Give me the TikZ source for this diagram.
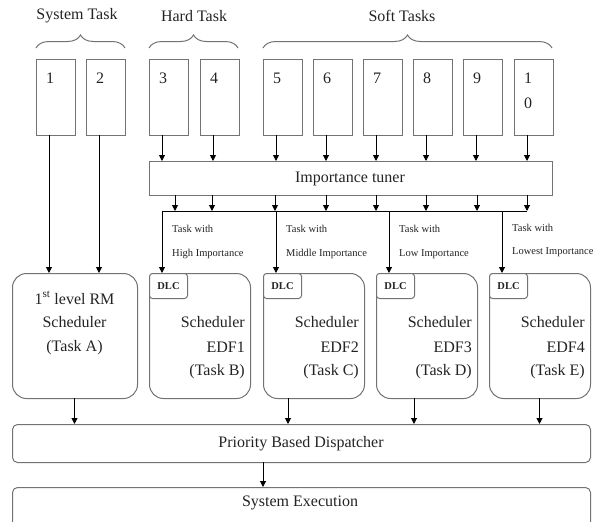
\documentclass[tikz,border=0pt]{standalone}
\usepackage{fontspec}
\setmainfont{Liberation Serif}
\usetikzlibrary{arrows.meta,calc,decorations.pathreplacing}
\definecolor{boxgray}{RGB}{115,115,115}
\definecolor{txt}{RGB}{35,35,35}
\begin{document}
\begin{tikzpicture}[x=1pt,y=-1pt,
  bigtxt/.style={font=\fontsize{16}{19}\selectfont, text=txt, inner sep=0pt},
  smalltxt/.style={font=\fontsize{10.5}{12}\selectfont, text=txt, inner sep=0pt, anchor=west},
  taskbox/.style={draw=boxgray, line width=1pt, minimum width=39pt, minimum height=76pt, anchor=north west, inner sep=0pt},
  schedbox/.style={draw=boxgray, line width=1pt, rounded corners=14pt, minimum height=125pt, anchor=north west, inner sep=0pt},
  dlcbox/.style={draw=boxgray, fill=white, line width=1pt, rounded corners=3pt, minimum width=38pt, minimum height=25pt, anchor=north west, inner sep=0pt, font=\fontsize{10.5}{12}\selectfont\bfseries, text=txt},
  widebox/.style={draw=boxgray, line width=1pt, rounded corners=5pt, minimum width=578pt, anchor=north west, inner sep=0pt},
  arr/.style={-{Triangle[width=6pt,length=6pt]}, line width=1pt, black},
  ln/.style={line width=1pt, black},
  bracestyle/.style={decorate, decoration={brace, amplitude=13pt}, draw=boxgray, line width=1pt}
]
\useasboundingbox (0,0) rectangle (597,522);

% headings
\node[bigtxt] (hsys) at (77,16) {System Task};
\node[bigtxt] (hhard) at (194,16) {Hard Task};
\node[bigtxt] (hsoft) at (402,16) {Soft Tasks};

% braces
\draw[bracestyle] (36,48) -- (125,48);
\draw[bracestyle] (149,48) -- (238,48);
\draw[bracestyle] (263,48) -- (552,48);

% task boxes
\foreach \i/\x in {1/36,2/86,3/149,4/200,5/263,6/313,7/363,8/413,9/463,10/514}{
  \node[taskbox] (t\i) at (\x,59) {};
  \coordinate (ta\i) at (\x+13,135);
}
\foreach \i in {1,...,9}{
  \node[bigtxt] (n\i) at ($(t\i.north west)+(14,19)$) {\i};
}
\node[bigtxt] (n10a) at ($(t10.north west)+(14,19)$) {1};
\node[bigtxt] (n10b) at ($(t10.north west)+(14,44)$) {0};

% importance tuner
\node[draw=boxgray, line width=1pt, minimum width=403pt, minimum height=34pt, anchor=north west, inner sep=0pt] (tuner) at (149,161) {};
\node[bigtxt] (tunertxt) at (350,179) {Importance tuner};

% schedulers
\node[schedbox, minimum width=125pt] (rm) at (12,273) {};
\node[bigtxt] (rmtxt1) at (74.5,298) {1\textsuperscript{st} level RM};
\node[bigtxt] (rmtxt2) at (74.5,322) {Scheduler};
\node[bigtxt] (rmtxt3) at (74.5,348) {(Task A)};

\foreach \k/\x/\l in {1/149/B,2/263/C,3/376/D,4/489/E}{
  \node[schedbox, minimum width=101pt] (e\k) at (\x,273) {};
  \node[dlcbox] (d\k) at (\x,273) {DLC};
  \coordinate (da\k) at (\x+13,273);
  \node[bigtxt, anchor=east] (es\k) at ($(e\k.north east)+(-6,49)$) {Scheduler};
  \node[bigtxt, anchor=east] (ee\k) at ($(e\k.north east)+(-6,74)$) {EDF\k};
  \node[bigtxt, anchor=east] (et\k) at ($(e\k.north east)+(-6,99)$) {(Task \l)};
}

% dispatcher and execution
\node[widebox, minimum height=38pt] (disp) at (12,424) {};
\node[bigtxt] (disptxt) at (301,444) {Priority Based Dispatcher};
\node[widebox, minimum height=50pt] (exec) at (12,487) {};
\node[bigtxt] (exectxt) at (300,503) {System Execution};

% bus coordinates
\coordinate (busL) at (162,211);
\coordinate (busR) at (527,211);

% arrows system tasks
\draw[arr] (ta1) -- (ta1 |- rm.north);
\draw[arr] (ta2) -- (ta2 |- rm.north);

% arrows tasks to tuner
\foreach \i in {3,...,10}{
  \draw[arr] (ta\i) -- (ta\i |- tuner.north);
}

% arrows tuner to bus
\foreach \x in {175,212,275,326,376,426,477,527}{
  \coordinate (tb) at (\x,195);
  \draw[arr] (tb) -- (tb |- busL);
}
\draw[ln] (busL) -- (busR);

% bus to DLCs
\foreach \k in {1,...,4}{
  \draw[arr] (da\k |- busL) -- (da\k);
}

% labels
\node[smalltxt] (l1a) at (172,229) {Task with};
\node[smalltxt] (l1b) at (172,254) {High Importance};
\node[smalltxt] (l2a) at (286,229) {Task with};
\node[smalltxt] (l2b) at (286,254) {Middle Importance};
\node[smalltxt] (l3a) at (399,229) {Task with};
\node[smalltxt] (l3b) at (399,254) {Low Importance};
\node[smalltxt] (l4a) at (512,228) {Task with};
\node[smalltxt] (l4b) at (512,252) {Lowest Importance};

% schedulers to dispatcher
\coordinate (sd1) at (74.5,398);
\coordinate (sd2) at (288,398);
\coordinate (sd3) at (414,398);
\coordinate (sd4) at (539.5,398);
\foreach \k in {1,...,4}{
  \draw[arr] (sd\k) -- (sd\k |- disp.north);
}

% dispatcher to execution
\coordinate (de) at (263,462);
\draw[arr] (de) -- (de |- exec.north);
\end{tikzpicture}
\end{document}
